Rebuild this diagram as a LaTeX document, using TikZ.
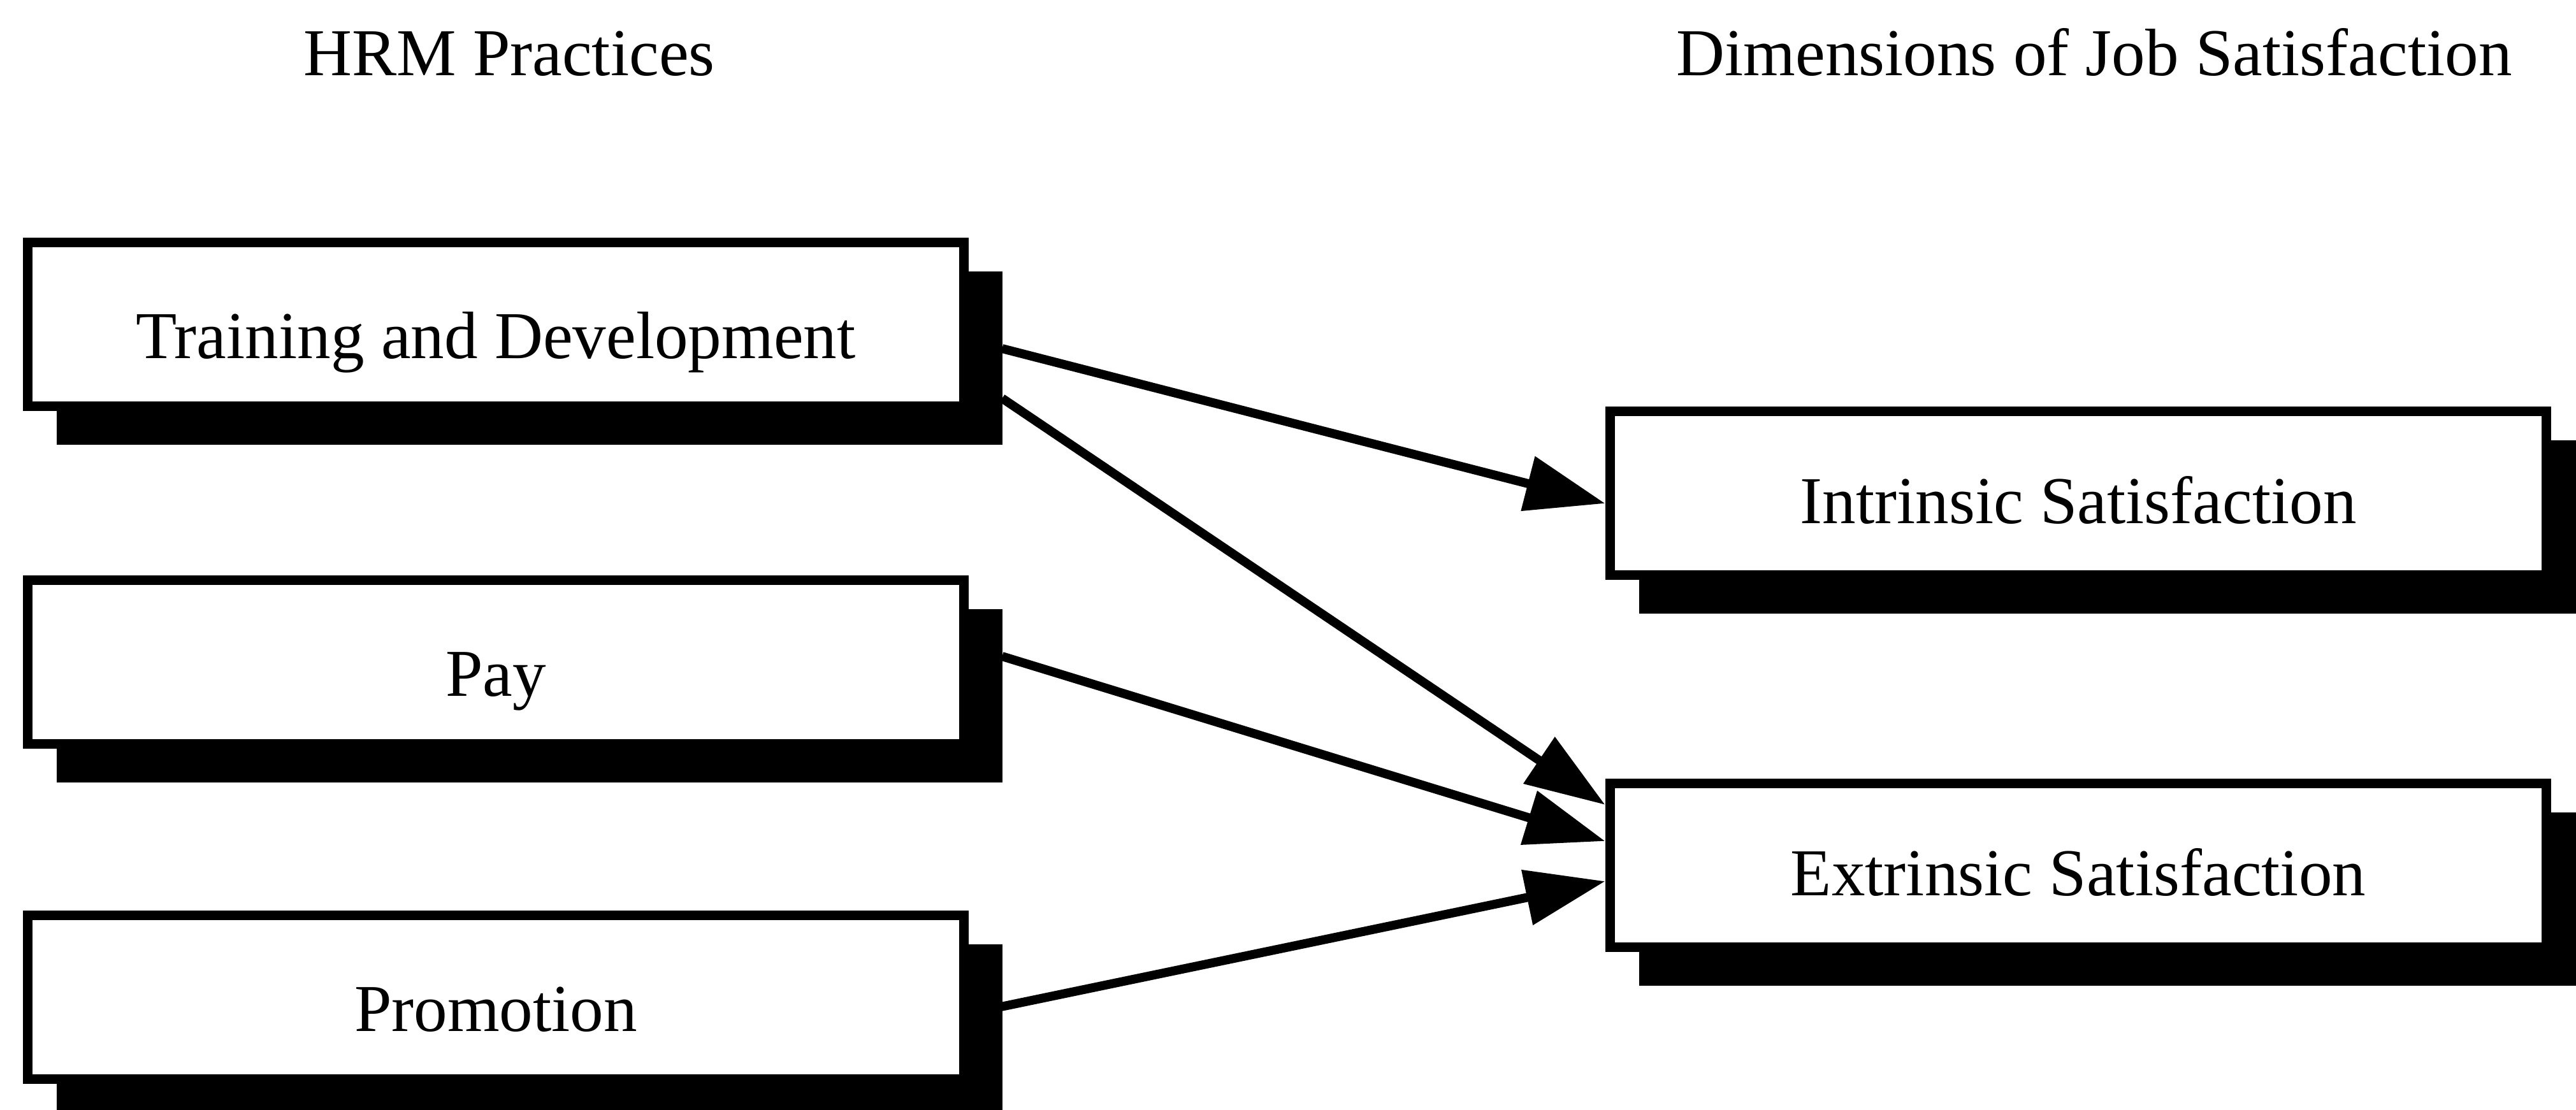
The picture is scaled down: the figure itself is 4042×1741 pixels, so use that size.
\documentclass[tikz,border=0pt]{standalone}
\usepackage{fontspec}
\setmainfont{Liberation Serif}
\usetikzlibrary{arrows.meta,backgrounds}
\tikzset{
  lbl/.style={font=\fontsize{29.9}{36}\selectfont, inner sep=0pt},
  boxbase/.style={draw=black, fill=white, line width=0.15cm, inner sep=0pt,
    minimum width=14.69cm, font=\fontsize{29.9}{36}\selectfont},
  leftbox/.style={boxbase, text height=1.82cm, text depth=0.75cm},
  rightbox/.style={boxbase, text height=1.76cm, text depth=0.81cm},
  shade/.style={fill=black},
  conn/.style={line width=0.14cm, -{Triangle[length=1.25cm,width=0.85cm]}}
}
\begin{document}
\begin{tikzpicture}[x=0.01cm, y=-0.01cm]
\useasboundingbox (0,0) rectangle (4042,1741);
\clip (0,0) rectangle (4042,1741);

% column headings
\node[lbl, anchor=base] (hrm) at (799,118) {HRM Practices};
\node[lbl, anchor=base] (dim) at (3286,118) {Dimensions of Job Satisfaction};

% practice boxes
\node[leftbox] (tr)  at (778,509)  {Training and Development};
\node[leftbox] (pay) at (778,1039) {Pay};
\node[leftbox] (pro) at (778,1565) {Promotion};

% satisfaction boxes
\node[rightbox] (in) at (3261,774)  {Intrinsic Satisfaction};
\node[rightbox] (ex) at (3261,1358) {Extrinsic Satisfaction};

% drop shadows behind the boxes
\begin{pgfonlayer}{background}
  \foreach \b in {tr,pay,pro,in,ex}{
    \fill[shade] ([shift={(0.53cm,-0.53cm)}]\b.south west)
      rectangle ([shift={(0.53cm,-0.53cm)}]\b.north east);
  }
\end{pgfonlayer}

% links
\draw[conn] ([shift={(0.52cm,-0.38cm)}]tr.east) -- ([yshift=-0.16cm]in.west);
\draw[conn] ([shift={(0.52cm,-1.16cm)}]tr.east) -- ([yshift=0.95cm]ex.west);
\draw[conn] ([shift={(0.52cm,0.09cm)}]pay.east) -- ([yshift=0.38cm]ex.west);
\draw[conn] ([shift={(0.50cm,-0.15cm)}]pro.east) -- ([yshift=-0.25cm]ex.west);
\end{tikzpicture}
\end{document}
